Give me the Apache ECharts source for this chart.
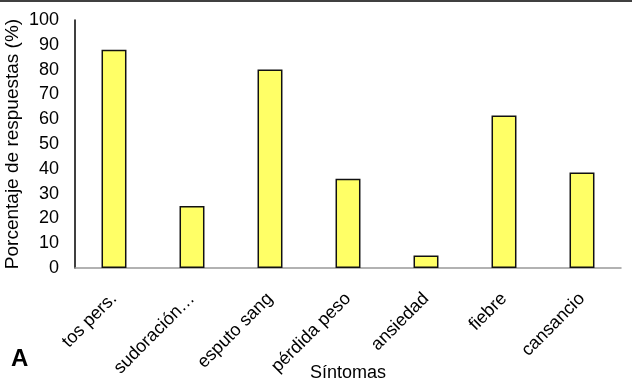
<!DOCTYPE html>
<html>
<head>
<meta charset="utf-8">
<script src="https://cdn.jsdelivr.net/npm/echarts@6/dist/echarts.min.js"></script>
<style>
html,body{margin:0;padding:0;background:#fff;}
#chart{width:632px;height:385px;}
</style>
</head>
<body>
<div id="chart"></div>
<script>
const categories = ['tos pers.', 'sudoración…', 'esputo sang', 'pérdida peso', 'ansiedad', 'fiebre', 'cansancio'];
const values = [88, 25, 80, 36, 5, 61.5, 38.5];
const yTicks = [0, 10, 20, 30, 40, 50, 60, 70, 80, 90, 100];

const font = 'Liberation Sans, Arial, sans-serif';
const chart = echarts.init(document.getElementById('chart'), null, {renderer: 'canvas'});
chart.setOption({
  animation: false,
  backgroundColor: '#fff',
  grid: {left: 75, right: 11, top: 20, bottom: 117, containLabel: false, outerBoundsMode: 'none'},
  xAxis: {
    type: 'category',
    data: categories,
    name: 'Síntomas',
    nameLocation: 'middle',
    nameGap: 96,
    nameMoveOverlap: false,
    nameTextStyle: {fontFamily: font, fontSize: 18, color: '#000'},
    axisLine: {lineStyle: {color: '#999', width: 1.5}},
    axisTick: {show: false},
    axisLabel: {rotate: 45, fontFamily: font, fontSize: 18, color: '#000', margin: 28, interval: 0}
  },
  yAxis: {
    type: 'value',
    min: yTicks[0],
    max: yTicks[yTicks.length - 1],
    interval: 10,
    name: 'Porcentaje de respuestas (%)',
    nameLocation: 'middle',
    nameGap: 53,
    nameMoveOverlap: false,
    nameTextStyle: {fontFamily: font, fontSize: 19, color: '#000'},
    axisLine: {show: true, lineStyle: {color: '#000', width: 1.5}},
    axisTick: {show: false},
    splitLine: {show: false},
    axisLabel: {fontFamily: font, fontSize: 18, color: '#000', margin: 16}
  },
  series: [{
    type: 'bar',
    data: values,
    barWidth: '32%',
    itemStyle: {color: '#FFFF66', borderColor: '#111', borderWidth: 1.5}
  }],
  graphic: [
    {type: 'rect', left: 0, top: 0, shape: {width: 632, height: 2}, style: {fill: '#404040'}},
    {type: 'text', left: 11, top: 347, style: {text: 'A', font: 'bold 24px Liberation Sans, Arial, sans-serif', fill: '#000'}}
  ]
});
</script>
</body>
</html>
